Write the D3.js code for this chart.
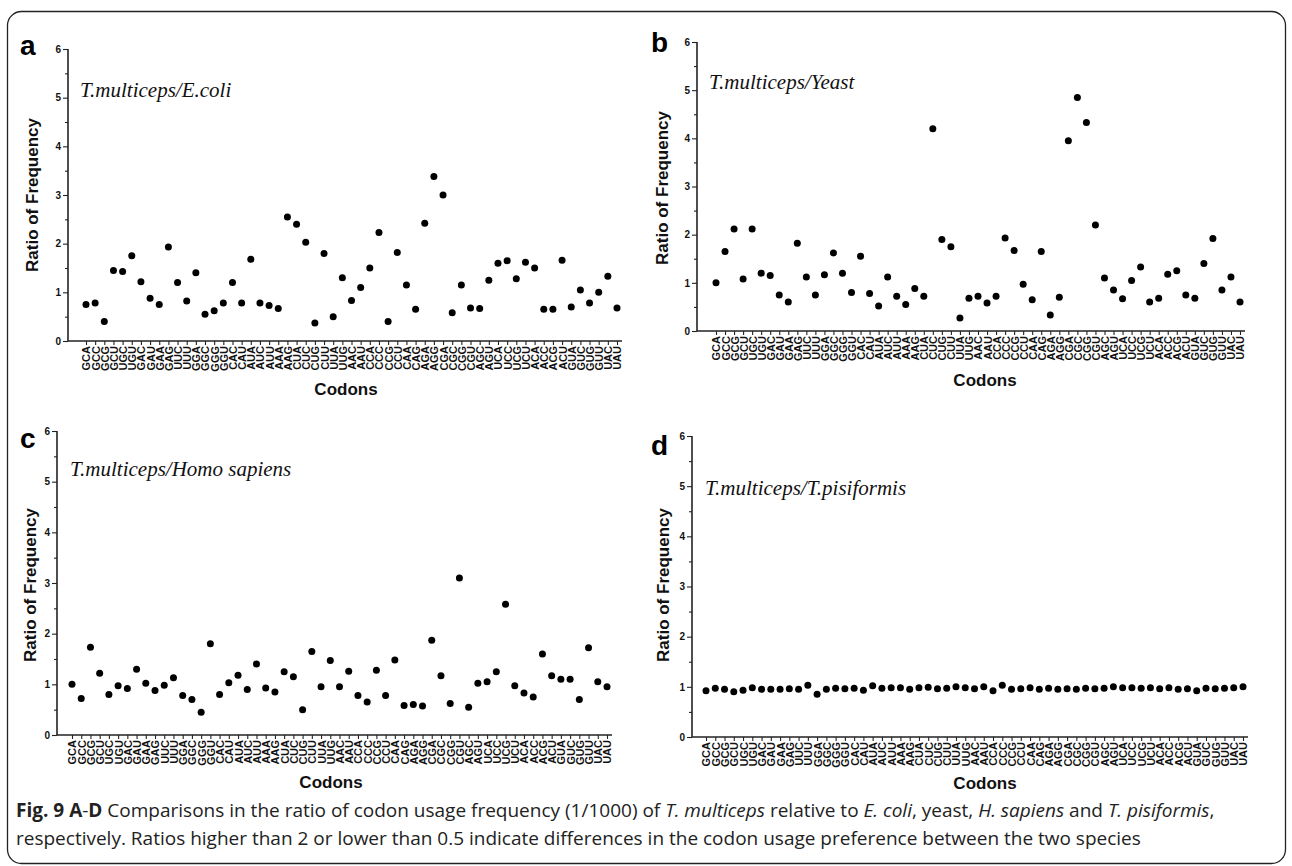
<!DOCTYPE html>
<html><head><meta charset="utf-8">
<script src="https://cdn.jsdelivr.net/npm/d3@7"></script>
<style>body{margin:0;background:#fff}svg{display:block}</style>
</head><body>
<svg id="chart" width="1292" height="866"></svg>
<script>
const codons = ["GCA","GCC","GCG","GCU","UGC","UGU","GAC","GAU","GAA","GAG","UUC","UUU","GGA","GGC","GGG","GGU","CAC","CAU","AUA","AUC","AUU","AAA","AAG","CUA","CUC","CUG","CUU","UUA","UUG","AAC","AAU","CCA","CCC","CCG","CCU","CAA","CAG","AGA","AGG","CGA","CGC","CGG","CGU","AGC","AGU","UCA","UCC","UCG","UCU","ACA","ACC","ACG","ACU","GUA","GUC","GUG","GUU","UAC","UAU"];
const yTicks = [0,1,2,3,4,5,6];
const ratioEcoli = [0.75,0.78,0.4,1.45,1.43,1.75,1.22,0.88,0.75,1.93,1.2,0.82,1.4,0.55,0.62,0.78,1.2,0.78,1.68,0.78,0.73,0.67,2.55,2.4,2.03,0.37,1.8,0.5,1.3,0.83,1.1,1.5,2.23,0.4,1.82,1.15,0.65,2.42,3.38,3.0,0.58,1.15,0.68,0.67,1.25,1.6,1.65,1.28,1.62,1.5,0.65,0.65,1.66,0.7,1.05,0.78,1.0,1.33,0.68];
const ratioYeast = [1.0,1.65,2.12,1.08,2.12,1.2,1.15,0.75,0.6,1.82,1.12,0.75,1.17,1.62,1.2,0.8,1.55,0.78,0.52,1.12,0.72,0.55,0.88,0.72,4.2,1.9,1.75,0.27,0.68,0.72,0.58,0.72,1.93,1.67,0.97,0.65,1.65,0.33,0.7,3.95,4.85,4.33,2.2,1.1,0.85,0.67,1.05,1.33,0.6,0.68,1.18,1.25,0.75,0.68,1.4,1.92,0.85,1.12,0.6];
const ratioHuman = [1.0,0.72,1.73,1.22,0.8,0.97,0.92,1.3,1.02,0.88,0.98,1.13,0.78,0.7,0.45,1.8,0.8,1.03,1.18,0.9,1.4,0.93,0.85,1.25,1.15,0.5,1.65,0.95,1.47,0.95,1.26,0.78,0.65,1.28,0.78,1.48,0.58,0.6,0.57,1.87,1.17,0.62,3.1,0.55,1.02,1.05,1.25,2.58,0.97,0.83,0.75,1.6,1.17,1.1,1.1,0.7,1.72,1.05,0.95];
const ratioPisiformis = [0.92,0.97,0.95,0.9,0.93,0.98,0.95,0.95,0.95,0.96,0.95,1.03,0.85,0.95,0.97,0.96,0.97,0.93,1.02,0.97,0.98,0.98,0.95,0.98,0.99,0.96,0.97,1.0,0.98,0.96,1.0,0.92,1.03,0.95,0.96,0.98,0.95,0.97,0.95,0.96,0.95,0.97,0.96,0.97,1.0,0.98,0.98,0.97,0.98,0.96,0.98,0.95,0.96,0.92,0.97,0.96,0.97,0.98,1.0];
const panelLetters = ["a","b","c","d"];
const panelTitles = ["T.multiceps/E.coli","T.multiceps/Yeast","T.multiceps/Homo sapiens","T.multiceps/T.pisiformis"];
const panelData = [ratioEcoli, ratioYeast, ratioHuman, ratioPisiformis];

// layout (pixels)
const layouts = [
  {axisX:68, x0:86, x1:617, xEnd:622, yTop:49, yBot:341, letter:[20,55], title:[80,97], ylab:[38,195], xlab:[346,395]},
  {axisX:697, x0:716, x1:1240, xEnd:1245, yTop:42, yBot:331, letter:[651,52], title:[709,89], ylab:[668,188], xlab:[985,386]},
  {axisX:57, x0:72, x1:607, xEnd:612, yTop:431, yBot:735, letter:[20,448], title:[70,476], ylab:[36,585], xlab:[331,788]},
  {axisX:692, x0:706, x1:1243, xEnd:1248, yTop:436, yBot:737, letter:[651,455], title:[705,495], ylab:[669,585], xlab:[985,789]}
];

const svg = d3.select("#chart");
svg.append("rect").attr("x",7.5).attr("y",11.5).attr("width",1278).attr("height",852)
  .attr("rx",14).attr("fill","none").attr("stroke","#222").attr("stroke-width",1.3);

layouts.forEach((L,i)=>{
  const g = svg.append("g");
  const x = d3.scalePoint().domain(codons).range([L.x0, L.x1]);
  const y = d3.scaleLinear().domain([0,6]).range([L.yBot, L.yTop]);

  // x axis
  const xa = g.append("g").attr("transform",`translate(0,${L.yBot})`)
    .call(d3.axisBottom(x).tickSize(4).tickPadding(3));
  xa.select(".domain").remove();
  xa.selectAll(".tick line").attr("stroke","#222").attr("stroke-width",1.1);
  xa.selectAll(".tick text")
    .attr("transform","rotate(-90)").attr("text-anchor","end")
    .attr("x",-5).attr("y",0).attr("dy","0.36em")
    .attr("font-family","Liberation Sans, Arial, sans-serif").attr("font-weight","bold")
    .attr("font-size",11).attr("fill","#111");
  g.append("line").attr("x1",L.axisX).attr("x2",L.xEnd).attr("y1",L.yBot).attr("y2",L.yBot)
    .attr("stroke","#222").attr("stroke-width",1.6);

  // y axis
  const ya = g.append("g").attr("transform",`translate(${L.axisX},0)`)
    .call(d3.axisLeft(y).tickValues(yTicks).tickFormat(d3.format("d")).tickSize(5).tickPadding(2));
  ya.select(".domain").remove();
  ya.selectAll(".tick line").attr("stroke","#222").attr("stroke-width",1.1);
  ya.selectAll(".tick text").attr("font-family","Liberation Sans, Arial, sans-serif")
    .attr("font-weight","bold").attr("font-size",10).attr("fill","#111");
  const ym = g.append("g").attr("transform",`translate(${L.axisX},0)`)
    .call(d3.axisLeft(y).tickValues(d3.range(0.5,6,1)).tickFormat("").tickSize(3));
  ym.select(".domain").remove();
  ym.selectAll(".tick line").attr("stroke","#222").attr("stroke-width",1.1);
  g.append("line").attr("x1",L.axisX).attr("x2",L.axisX).attr("y1",L.yTop).attr("y2",L.yBot)
    .attr("stroke","#222").attr("stroke-width",1.6);

  // points
  g.selectAll("circle.pt").data(panelData[i]).join("circle").attr("class","pt")
    .attr("cx",(d,k)=>x(codons[k])).attr("cy",d=>y(d)).attr("r",3.5).attr("fill","#000");

  // texts
  g.append("text").attr("x",L.letter[0]).attr("y",L.letter[1]).text(panelLetters[i])
    .attr("font-family","Liberation Sans, Arial, sans-serif").attr("font-weight","bold")
    .attr("font-size",28).attr("fill","#000");
  g.append("text").attr("x",L.title[0]).attr("y",L.title[1]).text(panelTitles[i])
    .attr("font-family","Liberation Serif, Times New Roman, serif").attr("font-style","italic")
    .attr("font-size",21).attr("fill","#111");
  g.append("text").attr("transform",`translate(${L.ylab[0]},${L.ylab[1]}) rotate(-90)`)
    .attr("text-anchor","middle").text("Ratio of Frequency")
    .attr("font-family","Liberation Sans, Arial, sans-serif").attr("font-weight","bold")
    .attr("font-size",17).attr("fill","#111");
  g.append("text").attr("x",L.xlab[0]).attr("y",L.xlab[1]).attr("text-anchor","middle").text("Codons")
    .attr("font-family","Liberation Sans, Arial, sans-serif").attr("font-weight","bold")
    .attr("font-size",17).attr("fill","#111");
});

// caption
const cap = svg.append("g").attr("font-family","Open Sans, sans-serif").attr("font-size",19).attr("fill","#222");
const t1 = cap.append("text").attr("x",16).attr("y",817);
[["Fig. 9 ","bold","normal"],["A","bold","normal"],["-","normal","normal"],["D","bold","normal"],
 [" Comparisons in the ratio of codon usage frequency (1/1000) of ","normal","normal"],
 ["T. multiceps","normal","italic"],[" relative to ","normal","normal"],["E. coli","normal","italic"],
 [", yeast, ","normal","normal"],["H. sapiens","normal","italic"],[" and ","normal","normal"],
 ["T. pisiformis","normal","italic"],[",","normal","normal"]].forEach(s=>{
  t1.append("tspan").text(s[0]).attr("font-weight",s[1]).attr("font-style",s[2]);
});
cap.append("text").attr("x",16).attr("y",845)
  .text("respectively. Ratios higher than 2 or lower than 0.5 indicate differences in the codon usage preference between the two species");
</script>
</body></html>
